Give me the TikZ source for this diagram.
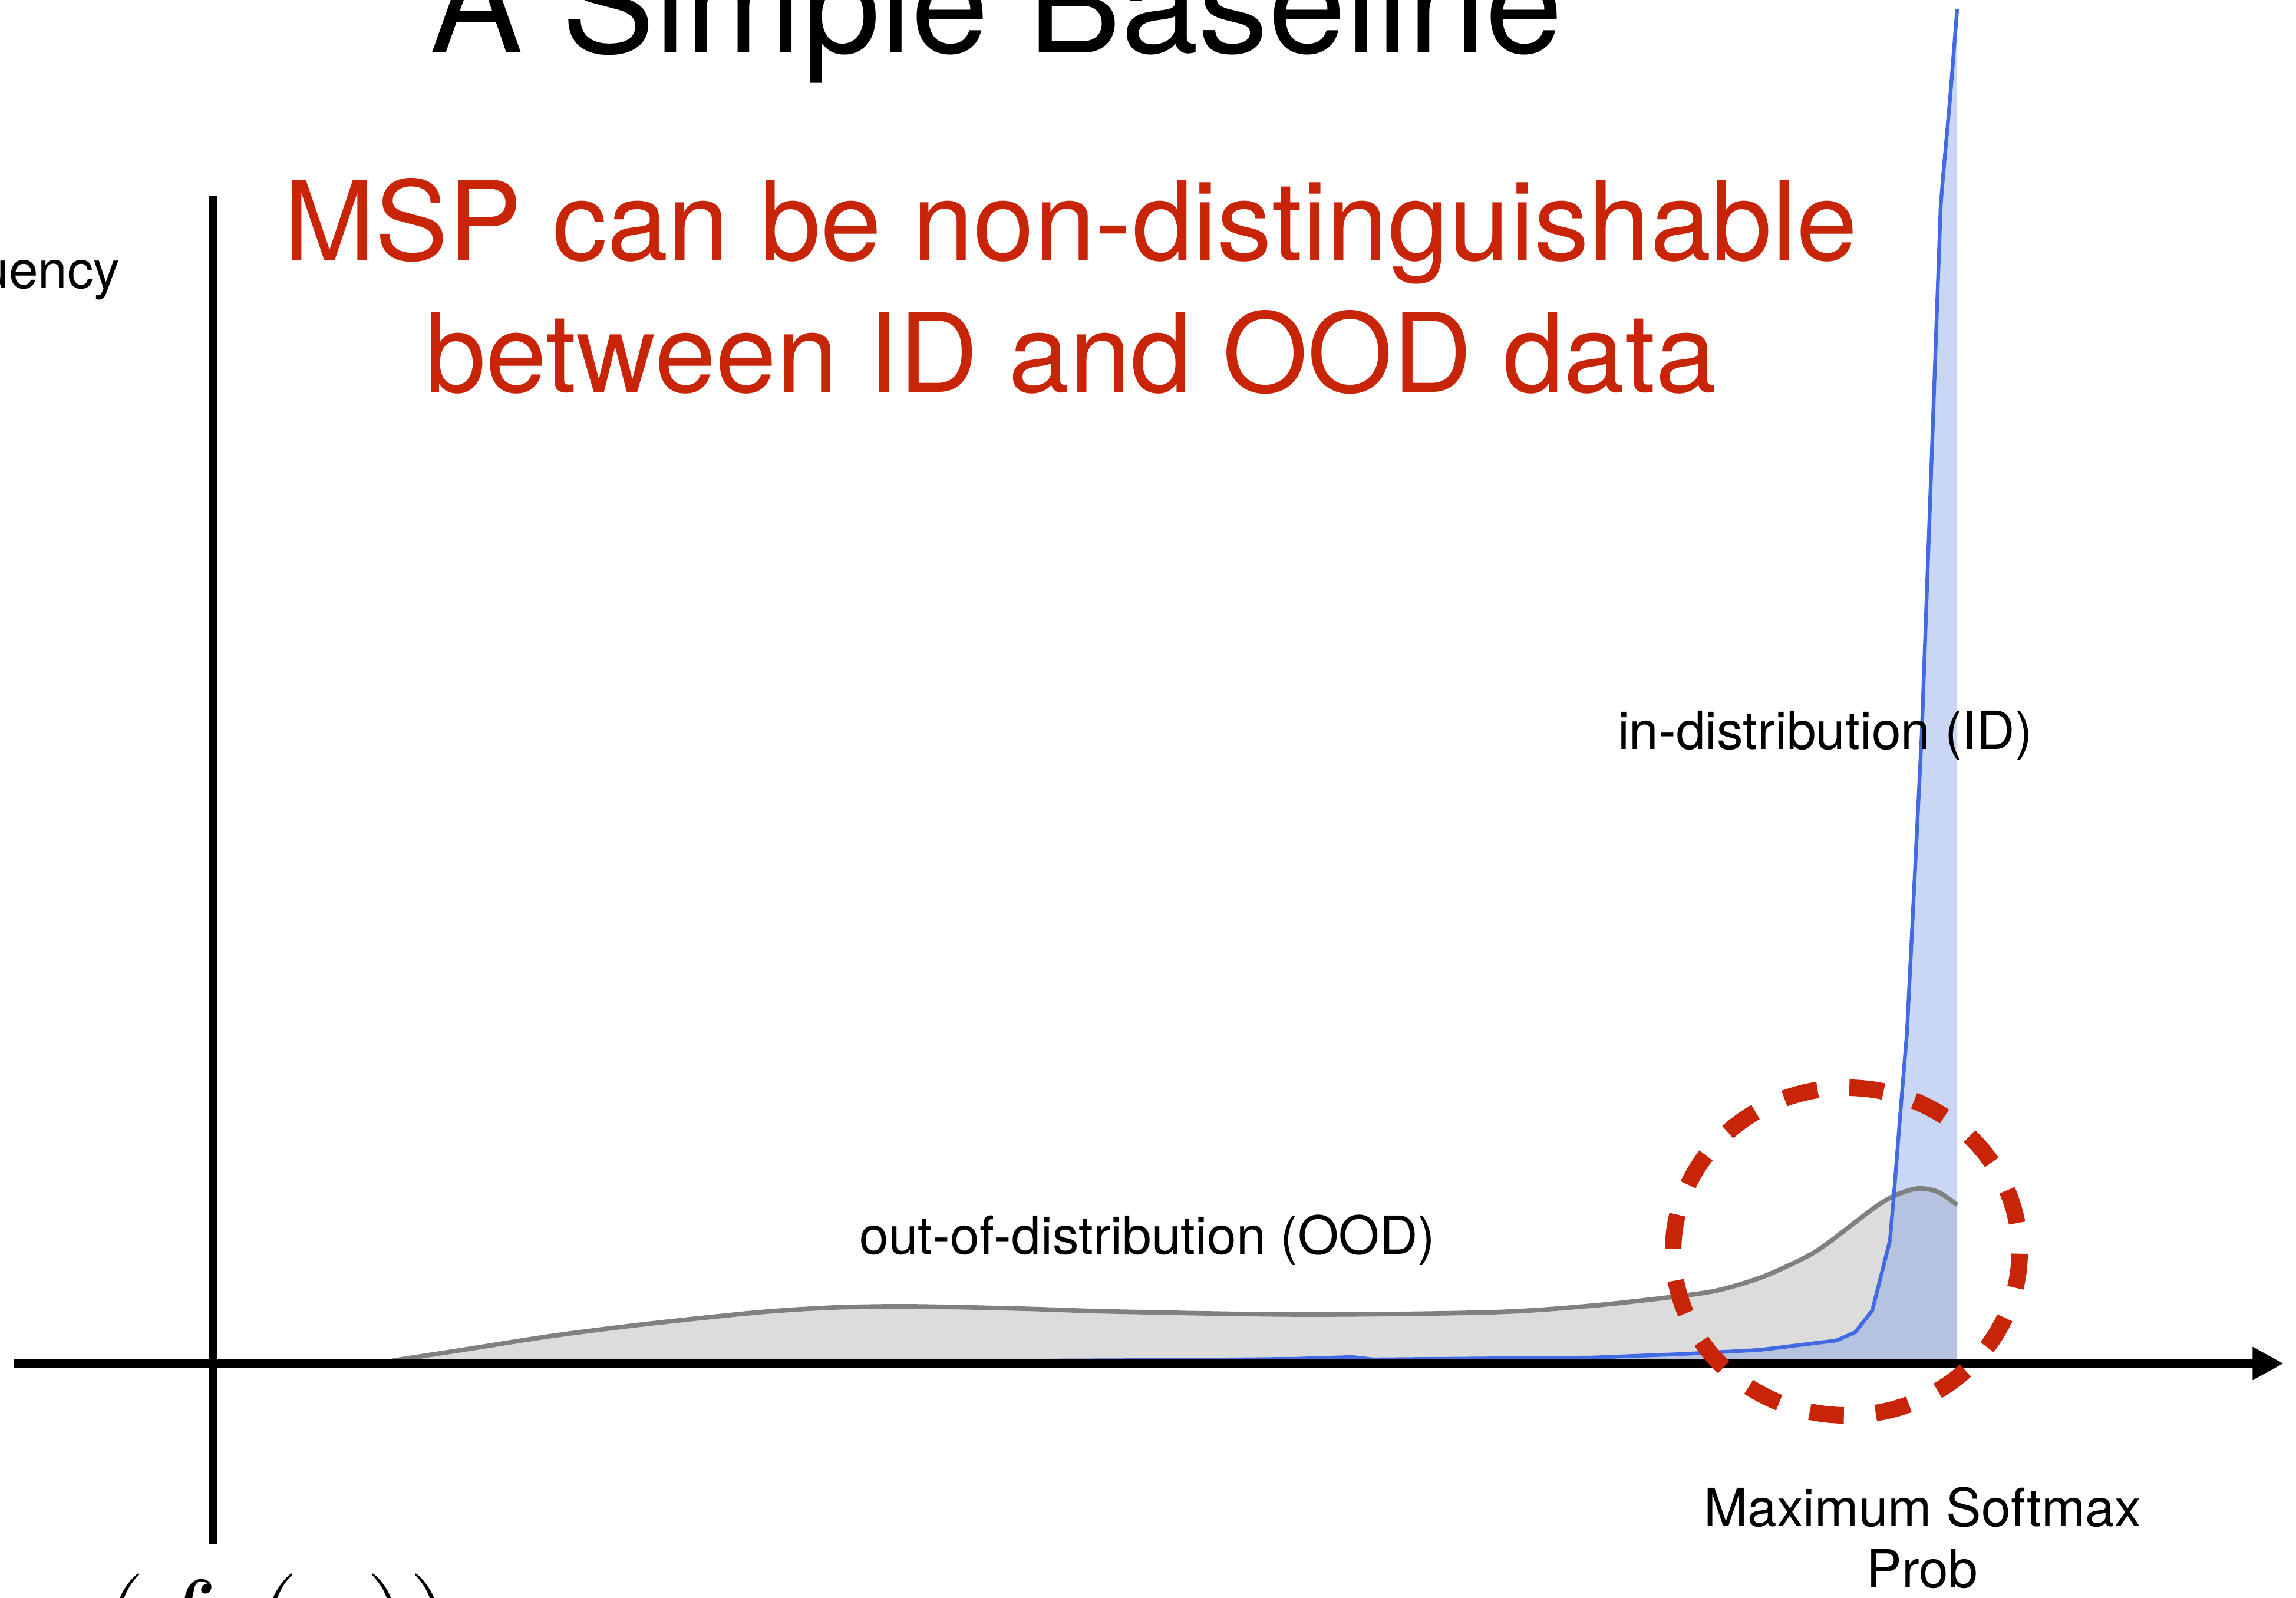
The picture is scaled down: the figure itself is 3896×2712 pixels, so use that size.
\documentclass[tikz,border=0pt]{standalone}
\usepackage{amsmath}
\usepackage{graphicx}
\usepackage{fontspec}
\setmainfont{TeX Gyre Heros}
\usepackage{xcolor}
\usepackage{tikz}
\usetikzlibrary{arrows.meta}

\definecolor{mspred}{RGB}{200,37,8}
\definecolor{idblue}{RGB}{66,106,226}
\definecolor{idfill}{RGB}{137,167,233}
\definecolor{oodgray}{RGB}{128,128,128}
\definecolor{oodfill}{RGB}{220,220,220}

\begin{document}
\begin{tikzpicture}[x=0.05mm,y=-0.05mm,
  axis/.style={line width=1.9pt},
  lbl/.style={inner sep=0pt,anchor=base,align=center,font=\fontsize{12.7}{14.8}\selectfont}]
\useasboundingbox (0,0) rectangle (3896,2712);
\clip (0,0) rectangle (3896,2712);

% histogram curves, ood first
\fill[oodfill] plot[smooth,tension=0.5] coordinates {(667,2314) (778,2294) (938,2267) (1097,2247) (1289,2227) (1416,2219) (1544,2217) (1735,2221) (1895,2226) (2214,2231) (2533,2227) (2700,2216) (2838,2201) (2914,2190) (2991,2167) (3067,2132) (3108,2105) (3180,2050) (3215,2029) (3254,2017) (3289,2023) (3321,2045)} -- (3321,2314) -- cycle;
\fill[idfill,fill opacity=0.46] (1780,2314) -- (2000,2308) -- (2200,2306) -- (2294,2303) -- (2330,2307) -- (2450,2306) -- (2700,2304) -- (2853,2298) -- (2986,2291) -- (3116,2275) -- (3148,2261) -- (3177,2224) -- (3207,2105) -- (3213,2036) -- (3225,1884) -- (3236,1750) -- (3261,1244) -- (3293,350) -- (3297,300) -- (3309,167) -- (3321,15) -- (3321,2314) -- cycle;
\draw[oodgray,line width=1.1pt] plot[smooth,tension=0.5] coordinates {(667,2309) (778,2292) (938,2267) (1097,2247) (1289,2227) (1416,2219) (1544,2217) (1735,2221) (1895,2226) (2214,2231) (2533,2227) (2700,2216) (2838,2201) (2914,2190) (2991,2167) (3067,2132) (3108,2105) (3180,2050) (3215,2029) (3254,2017) (3289,2023) (3321,2045)};
\draw[idblue,line width=0.9pt,line join=round] (1780,2309) -- (2000,2308) -- (2200,2306) -- (2294,2303) -- (2330,2307) -- (2450,2306) -- (2700,2304) -- (2853,2298) -- (2986,2291) -- (3116,2275) -- (3148,2261) -- (3177,2224) -- (3207,2105) -- (3213,2036) -- (3225,1884) -- (3236,1750) -- (3261,1244) -- (3293,350) -- (3297,300) -- (3309,167) -- (3321,15);

% axes
\coordinate (xstart) at (24,2314);
\coordinate (xend) at (3875,2314);
\coordinate (ytop) at (361,333);
\coordinate (ybot) at (361,2621);
\draw[axis,-{Triangle[length=7.5pt,width=7.5pt]}] (xstart) -- (xend);
\draw[axis] (ytop) -- (ybot);

% overlap region
\draw[mspred,line width=4pt,dash pattern=on 8.3pt off 7.7pt,dash phase=9.1pt] (3133,2124) ellipse [x radius=14.7mm,y radius=13.9mm];

\node (title) [inner sep=0pt,anchor=base,font=\fontsize{33.7}{40}\selectfont] at (1691,90) {A Simple Baseline};
\node (msg) [inner sep=0pt,anchor=base,align=center,text=mspred,font=\fontsize{26.5}{31.9}\selectfont] at (1817,666) {MSP can be non-distinguishable\\between ID and OOD data};
\node (freq) [lbl,anchor=base east] at (205,490) {Frequency};
\node (idlbl) [lbl] at (3097,1272) {in-distribution (ID)};
\node (oodlbl) [lbl] at (1947,2129) {out-of-distribution (OOD)};
\node (xlbl) [lbl] at (3262,2695) {Maximum Softmax\\Prob};
\node (score) [inner sep=0pt,anchor=base west,font=\fontsize{24.88}{30}\selectfont] at (172,2825) {\scalebox{1.18}{$(f_\theta(x))$}};
\end{tikzpicture}
\end{document}
